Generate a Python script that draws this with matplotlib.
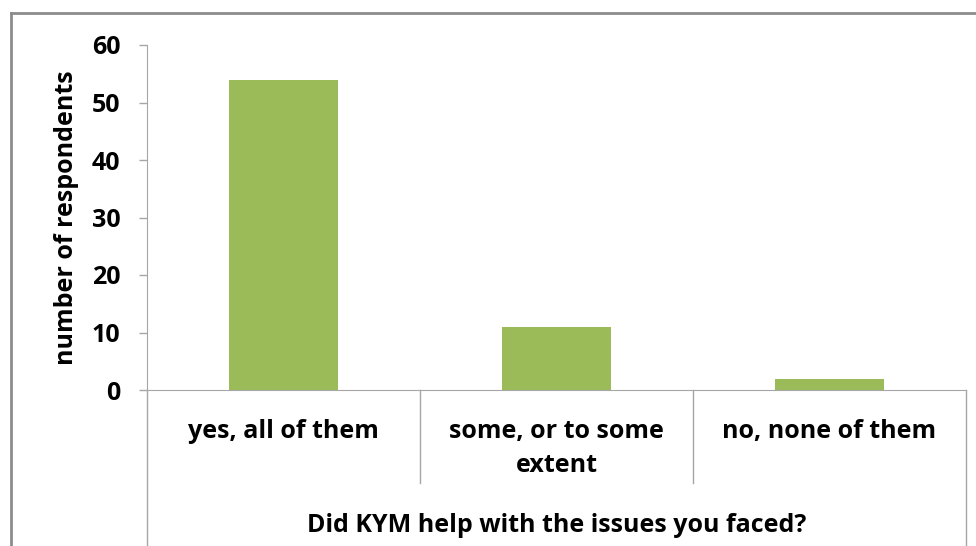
import matplotlib
matplotlib.use('Agg')
import matplotlib.pyplot as plt
from matplotlib.lines import Line2D
import matplotlib.transforms as mtransforms

categories = ['yes, all of them', 'some, or to some\nextent', 'no, none of them']
respondents = [54, 11, 2]
y_ticks = [0, 10, 20, 30, 40, 50, 60]

bar_color = '#9BBB59'
axis_color = '#A6A6A6'
font = 'Open Sans'
fs = 18

fig = plt.figure(figsize=(9.76, 5.46), dpi=100)
W, H = 976, 546

# axes placed to match pixel positions of the reference
left, right, top, bottom = 147, 966, 45, 390
ax = fig.add_axes([left / W, 1 - bottom / H, (right - left) / W, (bottom - top) / H])

x = list(range(len(categories)))
ax.bar(x, respondents, width=0.4, color=bar_color, zorder=2)
ax.set_xlim(-0.5, len(categories) - 0.5)
ax.set_ylim(0, 60)
ax.set_yticks(y_ticks)
ax.set_yticklabels([str(t) for t in y_ticks], fontsize=fs, fontweight='bold', family=font)
ax.tick_params(axis='y', length=6, width=1, color=axis_color, pad=13)
ax.set_xticks([])

for s in ['top', 'right']:
    ax.spines[s].set_visible(False)
ax.spines['left'].set_color(axis_color)
ax.spines['bottom'].set_color(axis_color)

ax.set_ylabel('number of respondents', fontsize=fs, fontweight='bold', family=font, labelpad=9)

# category table under the axis (Excel style)
trans = mtransforms.blended_transform_factory(ax.transData, ax.transAxes)
ax_h = bottom - top
sep_bottom = (bottom - 483) / ax_h
full_bottom = (bottom - 560) / ax_h
for xs in [0.5, 1.5]:
    ax.add_line(Line2D([xs, xs], [0, sep_bottom], transform=trans, color=axis_color,
                       lw=1, clip_on=False))
for xs in [-0.5, len(categories) - 0.5]:
    ax.add_line(Line2D([xs, xs], [0, full_bottom], transform=trans, color=axis_color,
                       lw=1, clip_on=False))

label_y = (bottom - 419) / ax_h
for xi, lab in zip(x, categories):
    ax.text(xi, label_y, lab, transform=trans, ha='center', va='top', fontsize=fs,
            fontweight='bold', family=font, linespacing=1.45)

ax.text(1, (bottom - 526) / ax_h, 'Did KYM help with the issues you faced?', transform=trans,
        ha='center', va='center', fontsize=fs, fontweight='bold', family=font)

# outer chart border (top and left visible)
fig.add_artist(Line2D([11 / W, 1.0], [1 - 13 / H, 1 - 13 / H], transform=fig.transFigure,
                      color='#8C8C8C', lw=2))
fig.add_artist(Line2D([11 / W, 11 / W], [1 - 13 / H, 0], transform=fig.transFigure,
                      color='#8C8C8C', lw=2))

fig.savefig('out.png', dpi=100)
